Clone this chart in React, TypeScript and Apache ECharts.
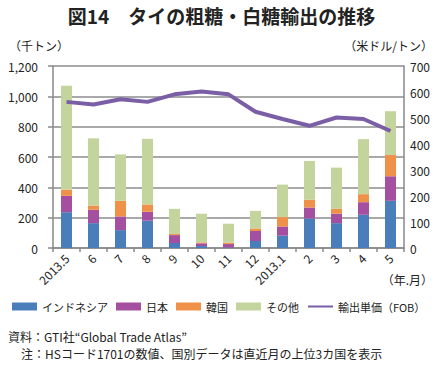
import React, { useEffect, useRef } from "react";
import * as echarts from "echarts";

const categories = ["2013.5", "6", "7", "8", "9", "10", "11", "12", "2013.1", "2", "3", "4", "5"];
const indonesia = [236, 164, 118, 180, 33, 13, 3, 46, 81, 195, 164, 219, 311];
const japan = [108, 88, 90, 59, 52, 18, 23, 66, 61, 72, 62, 83, 162];
const korea = [41, 28, 103, 48, 7, 6, 9, 17, 62, 51, 32, 53, 140];
const others = [684, 443, 306, 433, 166, 189, 125, 116, 214, 256, 272, 363, 289];
const unitPrice = [562, 552, 572, 562, 591, 602, 591, 524, 496, 470, 502, 496, 450];

const FONT = "'Noto Sans CJK JP', 'Noto Sans', sans-serif";

export default function App() {
  const ref = useRef<HTMLDivElement>(null);
  useEffect(() => {
    if (!ref.current) return;
    const chart = echarts.init(ref.current, null, { renderer: "svg" });
    const barSeries = (name: string, data: number[], color: string) => ({
      name,
      type: "bar",
      stack: "total",
      data,
      barWidth: 11,
      itemStyle: { color },
      yAxisIndex: 0,
    });
    chart.setOption({
      animation: false,
      textStyle: { fontFamily: FONT },
      grid: { left: 53, right: 39, top: 66, bottom: 118, containLabel: false },
      xAxis: {
        type: "category",
        data: categories,
        axisLine: { lineStyle: { color: "#888", width: 1.5 } },
        axisTick: { show: true, length: 4, lineStyle: { color: "#888", width: 1.5 } },
        axisLabel: { rotate: 45, fontSize: 12, color: "#222", margin: 8, fontFamily: FONT },
      },
      yAxis: [
        {
          type: "value",
          min: 0,
          max: 1200,
          interval: 200,
          axisLine: { show: true, lineStyle: { color: "#888", width: 1.5 } },
          axisTick: { show: true, length: 5, lineStyle: { color: "#888", width: 1.5 } },
          splitLine: { lineStyle: { color: "#8c8c8c", width: 1.5 } },
          axisLabel: {
            fontSize: 12,
            color: "#222",
            margin: 15,
            fontFamily: FONT,
            formatter: (v: number) => v.toLocaleString("en-US"),
          },
        },
        {
          type: "value",
          min: 0,
          max: 700,
          interval: 100,
          position: "right",
          axisLine: { show: true, lineStyle: { color: "#888", width: 1.5 } },
          axisTick: { show: false },
          splitLine: { show: false },
          axisLabel: { fontSize: 12, color: "#222", margin: 6, fontFamily: FONT },
        },
      ],
      legend: {
        top: 301,
        left: 12,
        padding: 0,
        itemWidth: 25,
        itemHeight: 8,
        itemGap: 8,
        textStyle: { fontSize: 11, color: "#222", fontFamily: FONT },
        data: [
          { name: "インドネシア", icon: "rect" },
          { name: "日本", icon: "rect" },
          { name: "韓国", icon: "rect" },
          { name: "その他", icon: "rect" },
          {
            name: "輸出単価（FOB）",
            itemStyle: { color: "rgba(0,0,0,0)", borderColor: "rgba(0,0,0,0)", borderWidth: 0 },
          },
        ],
      },
      series: [
        barSeries("インドネシア", indonesia, "#4A7EBB"),
        barSeries("日本", japan, "#A44F9F"),
        barSeries("韓国", korea, "#F0914A"),
        barSeries("その他", others, "#C3D59C"),
        {
          name: "輸出単価（FOB）",
          type: "line",
          yAxisIndex: 1,
          data: unitPrice,
          symbol: "none",
          showSymbol: false,
          lineStyle: { color: "#7B5FA6", width: 4 },
          itemStyle: { color: "#7B5FA6" },
          z: 5,
        },
      ],
      graphic: [
        {
          type: "text",
          left: "center",
          top: 6,
          style: {
            text: "図14　タイの粗糖・白糖輸出の推移",
            fontSize: 19,
            fontWeight: "bold",
            fill: "#222",
            fontFamily: FONT,
          },
        },
        {
          type: "text",
          left: 9,
          top: 39,
          style: { text: "（千トン）", fontSize: 12, fill: "#222", fontFamily: FONT },
        },
        {
          type: "text",
          right: 10,
          top: 39,
          style: { text: "（米ドル/トン）", fontSize: 12, fill: "#222", fontFamily: FONT },
        },
        {
          type: "text",
          right: 10,
          top: 273,
          style: { text: "（年.月）", fontSize: 12, fill: "#222", fontFamily: FONT },
        },
        {
          type: "text",
          left: 8,
          top: 330,
          style: { text: "資料：GTI社“Global Trade Atlas”", fontSize: 12, fill: "#222", fontFamily: FONT },
        },
        {
          type: "text",
          left: 21,
          top: 347,
          style: {
            text: "注：HSコード1701の数値、国別データは直近月の上位3カ国を表示",
            fontSize: 12,
            fill: "#222",
            fontFamily: FONT,
          },
        },
      ],
    });
    return () => chart.dispose();
  }, []);
  return <div ref={ref} style={{ width: 443, height: 366, position: "absolute", left: 0, top: 0 }} />;
}
